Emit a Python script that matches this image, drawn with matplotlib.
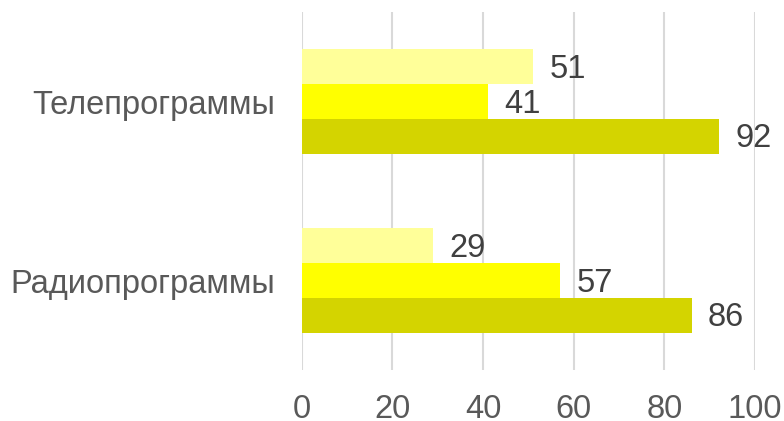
import matplotlib.pyplot as plt
import numpy as np

plt.rcParams['font.family'] = ['Liberation Sans', 'DejaVu Sans']

categories = ['Телепрограммы', 'Радиопрограммы']
series_top = [51, 29]
series_mid = [41, 57]
series_bot = [92, 86]
colors = ['#FFFF99', '#FFFF00', '#D4D400']
ticks = [0, 20, 40, 60, 80, 100]

fig = plt.figure(figsize=(7.84, 4.21), dpi=100)
ax = fig.add_axes([0.385, 0.121, 0.578, 0.8505])

y = np.arange(len(categories))
h = 0.194
for vals, off, c in zip([series_top, series_mid, series_bot], [-h, 0, h], colors):
    bars = ax.barh(y + off, vals, height=h, color=c, zorder=2)
    for b, v in zip(bars, vals):
        ax.text(v + 3.6, b.get_y() + h / 2 + 0.015, str(v), va='center', ha='left',
                fontsize=23.5, color='#404040')

ax.set_xlim(0, 100)
ax.set_ylim(1.5, -0.5)
ax.set_xticks(ticks)
ax.set_yticks(y)
ax.set_yticklabels(categories)
ax.grid(axis='x', color='#D9D9D9', linewidth=1.5, zorder=0)
ax.tick_params(axis='x', length=0, pad=17, labelsize=23.5, labelcolor='#595959')
ax.tick_params(axis='y', length=0, pad=19, labelsize=23.5, labelcolor='#595959')
for s in ax.spines.values():
    s.set_visible(False)

fig.savefig('out.png', dpi=100)
